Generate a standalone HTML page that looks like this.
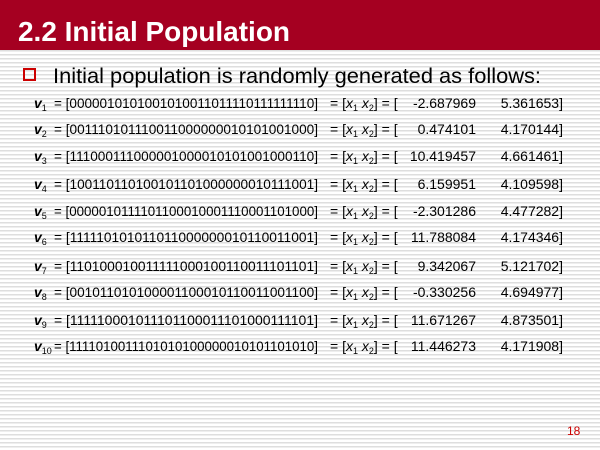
<!DOCTYPE html>
<html><head><meta charset="utf-8"><style>
body{margin:0;width:600px;height:450px;overflow:hidden;font-family:"Liberation Sans",sans-serif;}
#slide{position:relative;width:600px;height:450px;background:repeating-linear-gradient(to bottom,#fff 0,#fff 2px,#dedede 2px,#dedede 3.5px,#fff 3.5px,#fff 4px);}
</style></head><body>
<div id="slide">
<svg width="600" height="450" style="position:absolute;left:0;top:0">
<rect x="0" y="0" width="600" height="50" fill="#a50021"/>
<text x="18" y="41" font-size="28" font-weight="bold" fill="#fff" font-family="Liberation Sans, sans-serif" textLength="272" lengthAdjust="spacingAndGlyphs">2.2 Initial Population</text>
<rect x="24" y="69" width="11" height="11" fill="none" stroke="#c00" stroke-width="2"/>
<text x="53" y="83" font-size="21" fill="#000" font-family="Liberation Sans, sans-serif" textLength="488" lengthAdjust="spacingAndGlyphs">Initial population is randomly generated as follows:</text>
<g id="rows" font-family="Liberation Sans, sans-serif" font-size="14" fill="#000"></g>
<text x="567" y="435" font-size="12" fill="#c00" font-family="Liberation Sans, sans-serif">18</text>
</svg>
</div>
<script>
const rowsText=["0000010101001010011011110111111110","0011101011100110000000101010010 00","111000111000001000010101001000110","100110110100101101000000010111001","00000101111011000100011100011010 00","1111101010110110000000101100110 01","1101000100111110001001100111011 01","0010110101000011000101100110011 00","111110001011101100011101000111101","1111010011101010100000010101101010"].map(s=>s.replace(/ /g,''));
const x1=["-2.687969","0.474101","10.419457","6.159951","-2.301286","11.788084","9.342067","-0.330256","11.671267","11.446273"];
const x2=["5.361653","4.170144","4.661461","4.109598","4.477282","4.174346","5.121702","4.694977","4.873501","4.171908"];
const ys=[108,134,161,189,216,242,271,297,325,351];
const g=document.getElementById('rows');
const NS='http://www.w3.org/2000/svg';
function t(x,y,s,attrs){const e=document.createElementNS(NS,'text');e.setAttribute('x',x);e.setAttribute('y',y);for(const k in attrs)e.setAttribute(k,attrs[k]);e.innerHTML=s;g.appendChild(e);return e;}
rowsText.forEach((b,i)=>{
 const y=ys[i];
 const lab=t(34,y,'<tspan font-weight="bold" font-style="italic">v</tspan><tspan font-size="9" dy="3">'+(i+1)+'</tspan>',{});
 
 
 const bs=t(54,y,'= ['+b+']',{textLength:264,lengthAdjust:'spacingAndGlyphs'});
 
 
 const eq=t(330,y,'= [<tspan font-style="italic">x</tspan><tspan font-size="9" dy="3">1</tspan><tspan dy="-3"> </tspan><tspan font-style="italic">x</tspan><tspan font-size="9" dy="3">2</tspan><tspan dy="-3">] = [</tspan>',{});
 
 
 const v1=t(476,y,x1[i],{'text-anchor':'end'});
 
 
 const v2=t(563,y,x2[i]+']',{'text-anchor':'end'});
 
 
});
</script>
</body></html>
